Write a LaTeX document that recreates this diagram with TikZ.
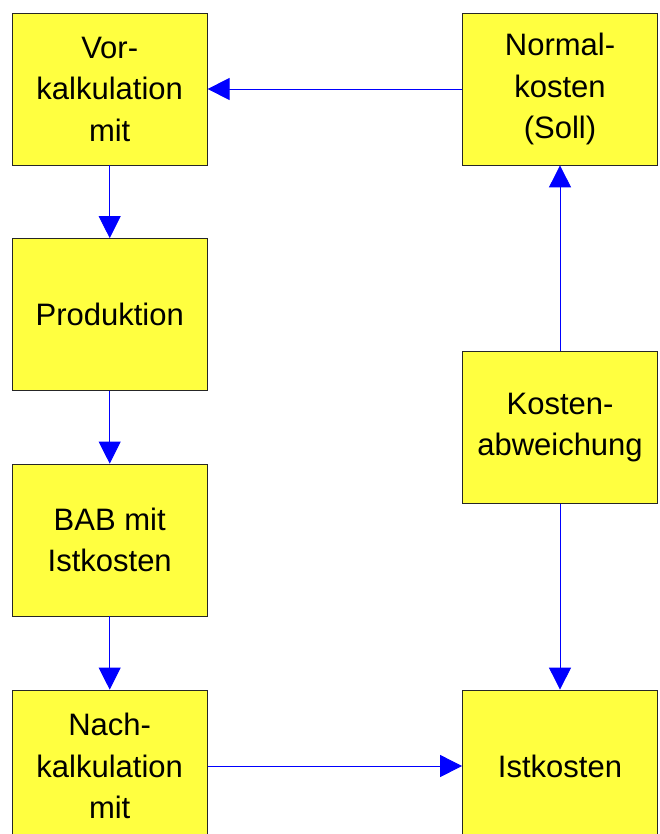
\documentclass[tikz,border=0pt]{standalone}
\usepackage{fontspec}
\setmainfont{Liberation Sans}
\usetikzlibrary{arrows.meta,positioning}

\definecolor{boxyellow}{RGB}{255,255,64}

\tikzset{
	kostbox/.style={draw=black!85, line width=0.8pt, fill=boxyellow,
		minimum width=195pt, minimum height=152pt, inner sep=0pt,
		align=center, font=\fontsize{31}{41.5}\selectfont},
	flow/.style={draw=blue, line width=0.9pt,
		-{Triangle[length=22pt,width=22pt]}}
}

\begin{document}
\begin{tikzpicture}[x=1pt,y=-1pt]
		%%%%% START %%%%%
		
		\useasboundingbox (0, 0) rectangle (659, 834);
		
		% linke Spalte
		\node[kostbox] (vorkalk) at (109.7, 89) {Vor-\\kalkulation\\mit};
		\node[kostbox] (produktion) at (109.7, 314.5) {Produktion};
		\node[kostbox] (bab) at (109.7, 540) {BAB mit\\Istkosten};
		\node[kostbox] (nachkalk) at (109.7, 766) {Nach-\\kalkulation\\mit};
		
		% rechte Spalte
		\node[kostbox] (normal) at (560, 89) {Normal-\\kosten\\(Soll)};
		\node[kostbox] (abweichung) at (560, 427.5) {Kosten-\\abweichung};
		\node[kostbox] (ist) at (560, 766) {Istkosten};
		
		\draw[flow] (vorkalk) -- (produktion);
		\draw[flow] (produktion) -- (bab);
		\draw[flow] (bab) -- (nachkalk);
		\draw[flow] (nachkalk) -- (ist);
		\draw[flow] (abweichung) -- (ist);
		\draw[flow] (abweichung) -- (normal);
		\draw[flow] (normal) -- (vorkalk);
		
		%%%%% END %%%%%
	\end{tikzpicture}
\end{document}
